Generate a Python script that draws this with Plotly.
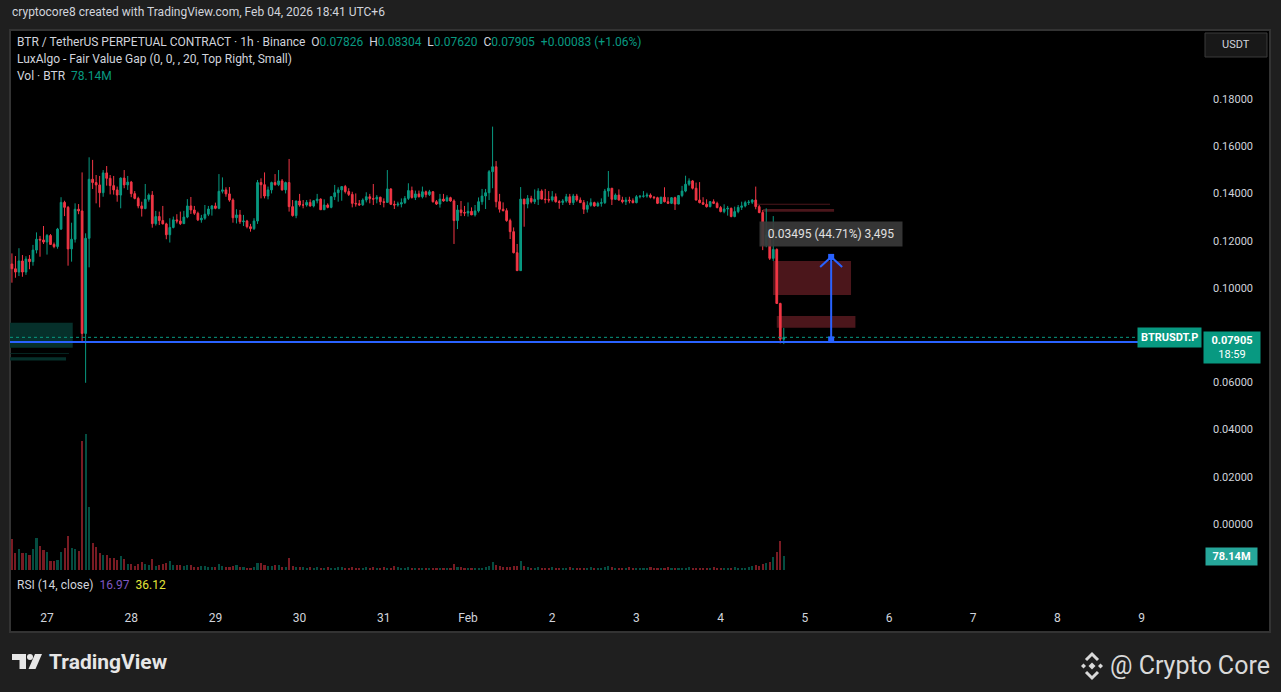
import pandas as pd
import plotly.graph_objects as go

# hourly candles, BTRUSDT.P (Binance), UTC+6
first_open = 0.1101
closes = [
    0.1081, 0.1067, 0.1114, 0.1067, 0.1122, 0.1111, 0.1160, 0.1206, 0.1203, 0.1194,
    0.1222, 0.1184, 0.1175, 0.1249, 0.1362, 0.1341, 0.1165, 0.1206, 0.1333, 0.1326,
    0.0807, 0.1210, 0.1460, 0.1446, 0.1436, 0.1403, 0.1487, 0.1464, 0.1433, 0.1415,
    0.1393, 0.1465, 0.1436, 0.1448, 0.1399, 0.1379, 0.1347, 0.1336, 0.1375, 0.1393,
    0.1272, 0.1302, 0.1285, 0.1271, 0.1225, 0.1256, 0.1288, 0.1283, 0.1272, 0.1300,
    0.1347, 0.1330, 0.1316, 0.1288, 0.1295, 0.1312, 0.1334, 0.1347, 0.1337, 0.1409,
    0.1415, 0.1398, 0.1372, 0.1297, 0.1309, 0.1280, 0.1283, 0.1259, 0.1251, 0.1283,
    0.1446, 0.1437, 0.1389, 0.1415, 0.1446, 0.1437, 0.1453, 0.1415, 0.1446, 0.1344,
    0.1306, 0.1368, 0.1351, 0.1351, 0.1362, 0.1347, 0.1369, 0.1376, 0.1331, 0.1351,
    0.1341, 0.1386, 0.1403, 0.1415, 0.1429, 0.1408, 0.1396, 0.1358, 0.1356, 0.1352,
    0.1372, 0.1386, 0.1378, 0.1376, 0.1384, 0.1365, 0.1362, 0.1419, 0.1354, 0.1351,
    0.1355, 0.1361, 0.1379, 0.1412, 0.1383, 0.1398, 0.1386, 0.1407, 0.1395, 0.1407,
    0.1365, 0.1355, 0.1376, 0.1368, 0.1382, 0.1368, 0.1285, 0.1330, 0.1319, 0.1317,
    0.1324, 0.1309, 0.1326, 0.1365, 0.1389, 0.1403, 0.1492, 0.1513, 0.1365, 0.1333,
    0.1327, 0.1285, 0.1238, 0.1149, 0.1073, 0.1376, 0.1355, 0.1379, 0.1365, 0.1375,
    0.1410, 0.1376, 0.1374, 0.1372, 0.1386, 0.1365, 0.1362, 0.1368, 0.1386, 0.1361,
    0.1389, 0.1372, 0.1361, 0.1333, 0.1350, 0.1361, 0.1347, 0.1358, 0.1361, 0.1410,
    0.1422, 0.1375, 0.1393, 0.1372, 0.1365, 0.1372, 0.1369, 0.1361, 0.1386, 0.1388,
    0.1389, 0.1393, 0.1384, 0.1382, 0.1358, 0.1384, 0.1365, 0.1358, 0.1382, 0.1355,
    0.1391, 0.1410, 0.1439, 0.1453, 0.1422, 0.1372, 0.1361, 0.1354, 0.1344, 0.1365,
    0.1358, 0.1340, 0.1323, 0.1334, 0.1337, 0.1302, 0.1323, 0.1341, 0.1347, 0.1361,
    0.1363, 0.1372, 0.1344, 0.1319, 0.1182, 0.1224, 0.1125, 0.1163, 0.0934, 0.07826,
    0.07905,
]
highs = [
    0.1146, 0.1135, 0.1168, 0.1139, 0.1134, 0.1139, 0.1182, 0.1235, 0.1220, 0.1262,
    0.1228, 0.1228, 0.1192, 0.1254, 0.1384, 0.1369, 0.1347, 0.1276, 0.1358, 0.1355,
    0.1489, 0.1231, 0.1553, 0.1542, 0.1478, 0.1474, 0.1499, 0.1516, 0.1478, 0.1474,
    0.1429, 0.1468, 0.1499, 0.1474, 0.1453, 0.1410, 0.1386, 0.1365, 0.1440, 0.1400,
    0.1410, 0.1326, 0.1323, 0.1347, 0.1276, 0.1295, 0.1302, 0.1312, 0.1323, 0.1326,
    0.1376, 0.1385, 0.1347, 0.1323, 0.1309, 0.1351, 0.1347, 0.1351, 0.1361, 0.1482,
    0.1468, 0.1426, 0.1427, 0.1379, 0.1333, 0.1330, 0.1309, 0.1288, 0.1271, 0.1295,
    0.1457, 0.1464, 0.1489, 0.1429, 0.1450, 0.1482, 0.1499, 0.1461, 0.1450, 0.1546,
    0.1372, 0.1369, 0.1398, 0.1372, 0.1372, 0.1375, 0.1372, 0.1398, 0.1379, 0.1375,
    0.1358, 0.1389, 0.1436, 0.1426, 0.1429, 0.1436, 0.1422, 0.1407, 0.1400, 0.1372,
    0.1379, 0.1405, 0.1398, 0.1440, 0.1393, 0.1386, 0.1379, 0.1499, 0.1422, 0.1369,
    0.1365, 0.1379, 0.1389, 0.1443, 0.1429, 0.1412, 0.1412, 0.1429, 0.1412, 0.1415,
    0.1410, 0.1372, 0.1398, 0.1398, 0.1392, 0.1386, 0.1375, 0.1351, 0.1368, 0.1347,
    0.1362, 0.1341, 0.1351, 0.1383, 0.1419, 0.1419, 0.1499, 0.1683, 0.1537, 0.1398,
    0.1362, 0.1337, 0.1293, 0.1256, 0.1186, 0.1427, 0.1376, 0.1393, 0.1390, 0.1417,
    0.1422, 0.1417, 0.1419, 0.1410, 0.1410, 0.1400, 0.1372, 0.1376, 0.1398, 0.1398,
    0.1398, 0.1398, 0.1383, 0.1372, 0.1367, 0.1379, 0.1365, 0.1365, 0.1379, 0.1419,
    0.1495, 0.1422, 0.1400, 0.1417, 0.1386, 0.1384, 0.1386, 0.1379, 0.1393, 0.1393,
    0.1410, 0.1403, 0.1400, 0.1389, 0.1386, 0.1386, 0.1426, 0.1384, 0.1384, 0.1386,
    0.1393, 0.1432, 0.1475, 0.1464, 0.1457, 0.1446, 0.1448, 0.1384, 0.1375, 0.1368,
    0.1375, 0.1365, 0.1347, 0.1354, 0.1347, 0.1340, 0.1344, 0.1351, 0.1365, 0.1369,
    0.1372, 0.1376, 0.1429, 0.1351, 0.1330, 0.1337, 0.1231, 0.1304, 0.1167, 0.0937,
    0.08304,
]
lows = [
    0.1022, 0.1043, 0.1050, 0.1047, 0.1055, 0.1079, 0.1094, 0.1146, 0.1132, 0.1186,
    0.1141, 0.1182, 0.1168, 0.1166, 0.1245, 0.1304, 0.1094, 0.1111, 0.1192, 0.1312,
    0.0772, 0.0598, 0.1087, 0.1419, 0.1358, 0.1341, 0.1386, 0.1433, 0.1396, 0.1395,
    0.1365, 0.1337, 0.1422, 0.1415, 0.1384, 0.1375, 0.1337, 0.1302, 0.1333, 0.1365,
    0.1255, 0.1264, 0.1266, 0.1269, 0.1206, 0.1192, 0.1252, 0.1273, 0.1266, 0.1271,
    0.1295, 0.1313, 0.1309, 0.1283, 0.1276, 0.1288, 0.1304, 0.1306, 0.1333, 0.1333,
    0.1400, 0.1386, 0.1365, 0.1276, 0.1273, 0.1271, 0.1262, 0.1252, 0.1238, 0.1245,
    0.1271, 0.1379, 0.1379, 0.1375, 0.1400, 0.1433, 0.1431, 0.1412, 0.1400, 0.1323,
    0.1302, 0.1295, 0.1344, 0.1337, 0.1344, 0.1344, 0.1341, 0.1358, 0.1330, 0.1330,
    0.1337, 0.1337, 0.1372, 0.1365, 0.1369, 0.1400, 0.1389, 0.1341, 0.1344, 0.1347,
    0.1347, 0.1362, 0.1358, 0.1351, 0.1358, 0.1351, 0.1341, 0.1361, 0.1351, 0.1334,
    0.1344, 0.1341, 0.1355, 0.1372, 0.1378, 0.1372, 0.1383, 0.1379, 0.1383, 0.1389,
    0.1361, 0.1351, 0.1340, 0.1365, 0.1365, 0.1365, 0.1186, 0.1249, 0.1304, 0.1304,
    0.1302, 0.1309, 0.1302, 0.1319, 0.1352, 0.1334, 0.1372, 0.1422, 0.1341, 0.1319,
    0.1324, 0.1280, 0.1207, 0.1146, 0.1073, 0.1073, 0.1259, 0.1337, 0.1358, 0.1355,
    0.1351, 0.1375, 0.1358, 0.1361, 0.1365, 0.1361, 0.1335, 0.1351, 0.1361, 0.1351,
    0.1351, 0.1365, 0.1361, 0.1313, 0.1319, 0.1344, 0.1344, 0.1344, 0.1344, 0.1355,
    0.1386, 0.1351, 0.1372, 0.1370, 0.1358, 0.1351, 0.1358, 0.1358, 0.1358, 0.1379,
    0.1382, 0.1382, 0.1379, 0.1375, 0.1355, 0.1355, 0.1362, 0.1355, 0.1355, 0.1330,
    0.1354, 0.1384, 0.1405, 0.1432, 0.1417, 0.1370, 0.1358, 0.1351, 0.1340, 0.1341,
    0.1355, 0.1337, 0.1320, 0.1316, 0.1306, 0.1299, 0.1299, 0.1316, 0.1330, 0.1341,
    0.1351, 0.1355, 0.1333, 0.1316, 0.1160, 0.1172, 0.1118, 0.1114, 0.0932, 0.0765,
    0.0762,
]
# volume, millions of BTR
volumes = [
    173, 95, 117, 95, 95, 84, 117, 179, 134, 112,
    100, 50, 50, 56, 100, 123, 190, 123, 117, 106,
    720, 759, 352, 151, 128, 95, 84, 84, 67, 67,
    56, 78, 61, 33, 33, 22, 33, 45, 33, 28,
    61, 22, 28, 33, 39, 50, 28, 28, 28, 22,
    28, 28, 17, 17, 22, 22, 17, 17, 17, 33,
    22, 17, 17, 22, 28, 17, 17, 11, 11, 17,
    39, 39, 28, 22, 22, 28, 28, 17, 17, 67,
    22, 17, 17, 17, 11, 17, 11, 17, 11, 11,
    17, 11, 11, 17, 17, 11, 11, 17, 11, 11,
    11, 17, 11, 17, 11, 11, 17, 11, 11, 22,
    17, 11, 11, 17, 11, 11, 11, 11, 11, 11,
    11, 11, 11, 11, 11, 11, 33, 17, 17, 11,
    11, 11, 11, 11, 11, 17, 22, 45, 28, 22,
    17, 17, 17, 22, 22, 50, 22, 17, 11, 11,
    17, 11, 11, 11, 17, 11, 11, 11, 11, 17,
    11, 11, 11, 11, 11, 17, 11, 11, 11, 17,
    22, 17, 11, 11, 11, 11, 17, 11, 11, 11,
    11, 11, 17, 11, 11, 11, 11, 17, 11, 11,
    11, 11, 11, 17, 11, 11, 11, 11, 11, 11,
    17, 11, 11, 11, 11, 11, 17, 11, 11, 11,
    17, 22, 28, 22, 33, 39, 45, 73, 100, 162,
    78.14,
]
times = pd.date_range('2026-01-26 14:00', periods=len(closes), freq='h')

day_ticks = pd.date_range('2026-01-27', '2026-02-09', freq='D')
day_labels = ['27', '28', '29', '30', '31', 'Feb', '2', '3', '4', '5', '6', '7', '8', '9']
# 0.08000 sits behind the last-price label, so it is left out
price_ticks = [0.0, 0.02, 0.04, 0.06, 0.10, 0.12, 0.14, 0.16, 0.18]

# LuxAlgo fair value gaps: (start, end, bottom, top)
fvg_bull = [
    ('2026-01-26 10:00', '2026-01-27 07:20', 0.07466, 0.08525),
    ('2026-01-26 10:00', '2026-01-27 06:15', 0.07215, 0.07240),
    ('2026-01-26 10:00', '2026-01-27 05:25', 0.06920, 0.07060),
]
fvg_bear = [
    ('2026-02-04 10:20', '2026-02-05 07:10', 0.13520, 0.13560),
    ('2026-02-04 12:05', '2026-02-05 08:20', 0.13227, 0.13341),
    ('2026-02-04 14:55', '2026-02-05 13:10', 0.09698, 0.11139),
    ('2026-02-04 16:00', '2026-02-05 14:25', 0.08313, 0.08809),
]

# price range measurement drawing
measure_time = '2026-02-05 07:30'
measure_base = 0.07817
measure_change = 0.03495
ray_price = 0.0771

UP = '#089981'
DOWN = '#f23645'
TEXT = '#d1d4dc'
FONT = 'Roboto, Liberation Sans, sans-serif'


def px(x):
    return (x - 10) / 1190


def py(y):
    return (603 - y) / 573


def main():
    opens = [first_open] + closes[:-1]
    vol_colors = ['rgba(8,153,129,0.5)' if c >= o else 'rgba(242,54,69,0.5)'
                  for o, c in zip(opens, closes)]

    fig = go.Figure()
    fig.add_trace(go.Bar(
        x=times,
        y=volumes,
        marker=dict(color=vol_colors, line=dict(width=0)),
        width=0.6 * 3600 * 1000,
        yaxis='y2',
        hoverinfo='skip',
    ))
    fig.add_trace(go.Candlestick(
        x=times,
        open=opens,
        high=highs,
        low=lows,
        close=closes,
        increasing=dict(line=dict(color=UP, width=1), fillcolor=UP),
        decreasing=dict(line=dict(color=DOWN, width=1), fillcolor=DOWN),
        whiskerwidth=0,
        hoverinfo='skip',
    ))

    shapes = [
        # chart frame
        dict(type='rect', xref='paper', yref='paper', x0=0, x1=px(1270), y0=py(632), y1=1,
             fillcolor='#000000', line=dict(color='#333333', width=2), layer='below'),
        # USDT button
        dict(type='rect', xref='paper', yref='paper', x0=px(1205), x1=px(1267), y0=py(57), y1=py(33),
             fillcolor='#181818', line=dict(color='#3a3a3a', width=1)),
    ]
    for t0, t1, lo, hi in fvg_bull:
        shapes.append(dict(type='rect', xref='x', yref='y', x0=t0, x1=t1, y0=lo, y1=hi,
                           fillcolor='#06302b', line=dict(width=0), layer='below'))
    for t0, t1, lo, hi in fvg_bear:
        shapes.append(dict(type='rect', xref='x', yref='y', x0=t0, x1=t1, y0=lo, y1=hi,
                           fillcolor='#4b161b', line=dict(width=0), layer='below'))

    # current price line and blue ray
    shapes.append(dict(type='line', xref='paper', yref='y', x0=0, x1=1, y0=closes[-1], y1=closes[-1],
                       line=dict(color=UP, width=1, dash='dot')))
    shapes.append(dict(type='line', xref='paper', yref='y', x0=0, x1=1, y0=ray_price, y1=ray_price,
                       line=dict(color='#2962ff', width=2)))

    # measurement arrow
    top = measure_base + measure_change
    shapes.append(dict(type='line', xref='x', yref='y', x0=measure_time, x1=measure_time,
                       y0=measure_base, y1=top, line=dict(color='#2962ff', width=2)))
    shapes.append(dict(type='path', xref='x', yref='y', xsizemode='pixel', ysizemode='pixel',
                       xanchor=measure_time, yanchor=top, path='M -11,-10 L 0,0 L 11,-10',
                       line=dict(color='#2962ff', width=2)))
    for yy in (measure_base, top):
        shapes.append(dict(type='rect', xref='x', yref='y', xsizemode='pixel', ysizemode='pixel',
                           xanchor=measure_time, yanchor=yy, x0=-3, x1=3, y0=-3, y1=3,
                           fillcolor='#2962ff', line=dict(width=0)))

    # TradingView logo
    logo = '#e6e6e6'
    shapes.append(dict(type='path', xref='paper', yref='paper',
                       path=f'M {px(12)},{py(654)} L {px(26)},{py(654)} L {px(26)},{py(669)} '
                            f'L {px(19.5)},{py(669)} L {px(19.5)},{py(660)} L {px(12)},{py(660)} Z',
                       fillcolor=logo, line=dict(width=0)))
    shapes.append(dict(type='circle', xref='paper', yref='paper',
                       x0=px(27), x1=px(33), y0=py(660), y1=py(654),
                       fillcolor=logo, line=dict(width=0)))
    shapes.append(dict(type='path', xref='paper', yref='paper',
                       path=f'M {px(35)},{py(654)} L {px(42)},{py(654)} L {px(35.5)},{py(669)} '
                            f'L {px(28.5)},{py(669)} Z',
                       fillcolor=logo, line=dict(width=0)))

    # Binance mark
    bx, by = 1092, 666

    def diamond(cx, cy, r):
        return (f'M {px(cx - r)},{py(cy)} L {px(cx)},{py(cy - r)} '
                f'L {px(cx + r)},{py(cy)} L {px(cx)},{py(cy + r)} Z')

    for cx, cy, r in [(bx, by, 3.5), (bx - 8.5, by, 2.5), (bx + 8.5, by, 2.5)]:
        shapes.append(dict(type='path', xref='paper', yref='paper', path=diamond(cx, cy, r),
                           fillcolor='#d9d9d9', line=dict(width=0)))
    for s in (1, -1):
        shapes.append(dict(type='path', xref='paper', yref='paper',
                           path=f'M {px(bx - 6)},{py(by - s * 6)} L {px(bx)},{py(by - s * 12)} '
                                f'L {px(bx + 6)},{py(by - s * 6)}',
                           line=dict(color='#d9d9d9', width=3)))

    def note(x, y, text, size=12, color=TEXT, anchor='left', **kw):
        return dict(xref='paper', yref='paper', x=px(x), y=py(y), text=text, showarrow=False,
                    xanchor=anchor, yanchor='middle', font=dict(family=FONT, size=size, color=color), **kw)

    def teal(v):
        return f'<span style="color:{UP}">{v}</span>'

    sp = '\u00a0\u00a0'
    annotations = [
        note(10, 12, 'cryptocore8 created with TradingView.com, Feb 04, 2026 18:41 UTC+6', size=12),
        note(15, 42, 'BTR / TetherUS PERPETUAL CONTRACT · 1h · Binance' + sp
             + 'O' + teal(f'{opens[-1]:.5f}') + sp + 'H' + teal(f'{highs[-1]:.5f}') + sp
             + 'L' + teal(f'{lows[-1]:.5f}') + sp + 'C' + teal(f'{closes[-1]:.5f}') + sp
             + teal('+0.00083 (+1.06%)')),
        note(15, 59, 'LuxAlgo - Fair Value Gap (0, 0, , 20, Top Right, Small)'),
        note(15, 76, 'Vol · BTR' + sp + teal(f'{volumes[-1]:.2f}M')),
        note(15, 585, 'RSI (14, close)' + sp + '<span style="color:#7e57c2">16.97</span>' + sp
             + '<span style="color:#e4e639">36.12</span>'),
        note(1236, 45, 'USDT', size=11, anchor='center'),
        note(47, 662, '<b>TradingView</b>', size=21, color='#e6e6e6'),
        note(1272, 665, '@ Crypto Core', size=25, color='#d9d9d9', anchor='right'),
        # price scale labels
        dict(xref='paper', yref='y', x=px(1202), y=closes[-1], text='<b>BTRUSDT.P</b>',
             showarrow=False, xanchor='right', yanchor='middle', bgcolor=UP, borderpad=3,
             font=dict(family=FONT, size=11, color='#ffffff')),
        dict(xref='paper', yref='y', x=px(1203), y=closes[-1], yshift=6,
             text=f'<b>{closes[-1]:.5f}</b><br>18:59', showarrow=False, xanchor='left',
             yanchor='top', bgcolor=UP, borderpad=2, width=52, align='center',
             font=dict(family=FONT, size=11, color='#ffffff')),
        dict(xref='paper', yref='y2', x=px(1205), y=volumes[-1],
             text=f'<b>{volumes[-1]:.2f}M</b>', showarrow=False, xanchor='left',
             yanchor='middle', bgcolor='#26a69a', borderpad=2, width=47,
             font=dict(family=FONT, size=11, color='#ffffff')),
        # measurement label
        dict(xref='x', yref='y', x=measure_time, y=top, yshift=10,
             text=f'{measure_change:.5f} ({measure_change / measure_base * 100:.2f}%) '
                  f'{measure_change * 100000:,.0f}',
             showarrow=False, xanchor='center', yanchor='bottom', bgcolor='rgba(58,58,58,0.92)',
             borderpad=5, width=132, font=dict(family=FONT, size=12, color='#e0e0e0')),
    ]

    fig.update_layout(
        width=1281,
        height=692,
        margin=dict(l=10, r=81, t=30, b=89),
        paper_bgcolor='#1f1f1f',
        plot_bgcolor='#000000',
        showlegend=False,
        bargap=0,
        font=dict(family=FONT, color=TEXT),
        xaxis=dict(
            type='date',
            range=['2026-01-26 13:27', '2026-02-09 16:38'],
            rangeslider=dict(visible=False),
            showgrid=False, zeroline=False, showline=False,
            tickvals=day_ticks, ticktext=day_labels,
            tickfont=dict(size=12, color=TEXT),
            ticklabelstandoff=6,
        ),
        yaxis=dict(
            side='right',
            range=[-0.03347, 0.20922],
            showgrid=False, zeroline=False, showline=False,
            tickvals=price_ticks, tickformat='.5f',
            tickfont=dict(size=11, color=TEXT),
            ticklabelstandoff=12,
        ),
        yaxis2=dict(
            overlaying='y',
            range=[-184, 3013],
            visible=False,
        ),
        shapes=shapes,
        annotations=annotations,
    )
    # the page body keeps its default 8px margin otherwise
    fig.write_html('out.html', config={'displayModeBar': False},
                   post_script="document.body.style.margin='0';document.body.style.overflow='hidden';")


if __name__ == '__main__':
    main()
